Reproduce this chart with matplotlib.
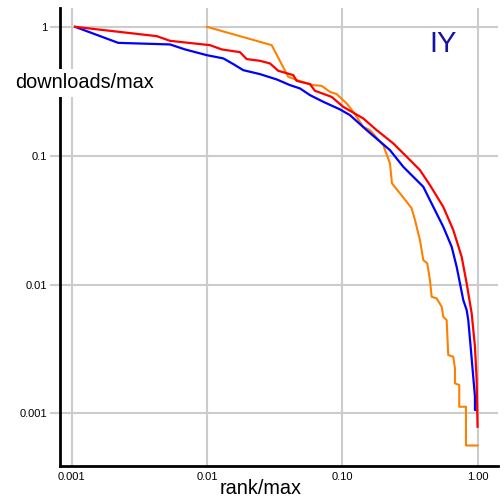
import numpy as np
import matplotlib
matplotlib.use("Agg")
import matplotlib.pyplot as plt
from matplotlib.ticker import FixedLocator, NullLocator

plt.rcParams['font.family'] = ['Liberation Sans', 'DejaVu Sans']

# rank/max , downloads/max
red_x = [0.00106, 0.00425, 0.00533, 0.00939, 0.01052, 0.01284, 0.01753, 0.01965, 0.02464,
         0.02921, 0.03365, 0.04344, 0.04603, 0.0577, 0.0628, 0.0835, 0.1017, 0.1429, 0.1795,
         0.2381, 0.2992, 0.3752, 0.4448, 0.5578, 0.6613, 0.7629, 0.8308, 0.9045, 0.9568,
         0.9847, 1.0]
red_y = [1.0, 0.847, 0.779, 0.730, 0.721, 0.668, 0.636, 0.562, 0.545,
         0.520, 0.456, 0.422, 0.381, 0.359, 0.319, 0.286, 0.2394, 0.1947, 0.158,
         0.1246, 0.0982, 0.0773, 0.0591, 0.0401, 0.0265, 0.01643, 0.01022, 0.00598, 0.00329,
         0.001816, 0.000788]

blue_x = [0.00106, 0.00221, 0.00533, 0.00688, 0.00995, 0.0132, 0.01565, 0.01855, 0.02464,
          0.03275, 0.04108, 0.04868, 0.0577, 0.0724, 0.0962, 0.114, 0.1514, 0.2252, 0.2825,
          0.3970, 0.4707, 0.5578, 0.6436, 0.7006, 0.7413, 0.7843, 0.8308, 0.8538, 0.889,
          0.920, 0.9568, 0.9568, 0.97]
blue_y = [1.0, 0.751, 0.730, 0.668, 0.603, 0.569, 0.514, 0.461, 0.4296,
          0.3908, 0.353, 0.3327, 0.2953, 0.262, 0.2287, 0.2065, 0.158, 0.1105, 0.082,
          0.0574, 0.0401, 0.0281, 0.01965, 0.01374, 0.01022, 0.00758, 0.00634, 0.0053, 0.00329,
          0.00217, 0.001348, 0.001063, 0.001063]

orange_x = [0.01, 0.03007, 0.0399, 0.04868, 0.061, 0.0704, 0.0811, 0.0909, 0.1077, 0.1206,
            0.1429, 0.1602, 0.2009, 0.2252, 0.2330, 0.267, 0.2992, 0.3258, 0.3446, 0.3752,
            0.397, 0.4249, 0.4448, 0.4578, 0.4985, 0.5429, 0.5578, 0.591, 0.6071, 0.6613,
            0.6808, 0.6808, 0.7323, 0.7323, 0.8209, 0.8209, 1.0]
orange_y = [1.0, 0.721, 0.4093, 0.3791, 0.353, 0.3485, 0.3131, 0.3006, 0.2545, 0.219,
            0.1675, 0.158, 0.1209, 0.0871, 0.061, 0.051, 0.0439, 0.039, 0.0317, 0.02214,
            0.01549, 0.0146, 0.01084, 0.00804, 0.00781, 0.00673, 0.00563, 0.0053, 0.00284, 0.002754,
            0.002239, 0.001712, 0.00166, 0.001127, 0.001127, 0.000564, 0.000564]

xticks = [0.001, 0.01, 0.1, 1.0]
xticklabels = ['0.001', '0.01', '0.10', '1.00']
yticks = [0.001, 0.01, 0.1, 1.0]
yticklabels = ['0.001', '0.01', '0.1', '1']

fig = plt.figure(figsize=(5.04, 5.04), dpi=100)
ax = fig.add_axes([60/504, 1 - 466/504, 438/504, 458/504])
ax.set_xscale('log')
ax.set_yscale('log')
ax.set_xlim(0.00082, 1.416)
ax.set_ylim(0.000391, 1.40)

ax.plot(orange_x, orange_y, color='#ff8000', lw=1.5, zorder=3)
ax.plot(blue_x, blue_y, color='#0000ff', lw=1.6, zorder=4)
ax.plot(red_x, red_y, color='#ff0000', lw=1.6, zorder=5)

ax.xaxis.set_major_locator(FixedLocator(xticks))
ax.yaxis.set_major_locator(FixedLocator(yticks))
ax.xaxis.set_minor_locator(NullLocator())
ax.yaxis.set_minor_locator(NullLocator())
ax.set_xticklabels(xticklabels)
ax.set_yticklabels(yticklabels)
ax.grid(True, color='#cccccc', lw=1.5)
ax.set_axisbelow(True)
ax.tick_params(axis='y', length=7, width=1.5, color='#cccccc', labelsize=8, pad=2)
ax.tick_params(axis='x', length=0, labelsize=8, pad=4)

for s in ['top', 'right']:
    ax.spines[s].set_visible(False)
for s in ['left', 'bottom']:
    ax.spines[s].set_linewidth(2)
    ax.spines[s].set_color('black')

fig.text(15/504, 1 - 83/504, 'downloads/max', fontsize=14.3, va='center', ha='left',
         bbox=dict(facecolor='white', edgecolor='none', pad=3))
fig.text(261/504, 1 - 488/504, 'rank/max', fontsize=14.3, va='center', ha='center')
fig.text(443/504, 1 - 44/504, 'IY', fontsize=21, color='#1414a0', va='center', ha='center')

fig.savefig('out.png', dpi=100)
